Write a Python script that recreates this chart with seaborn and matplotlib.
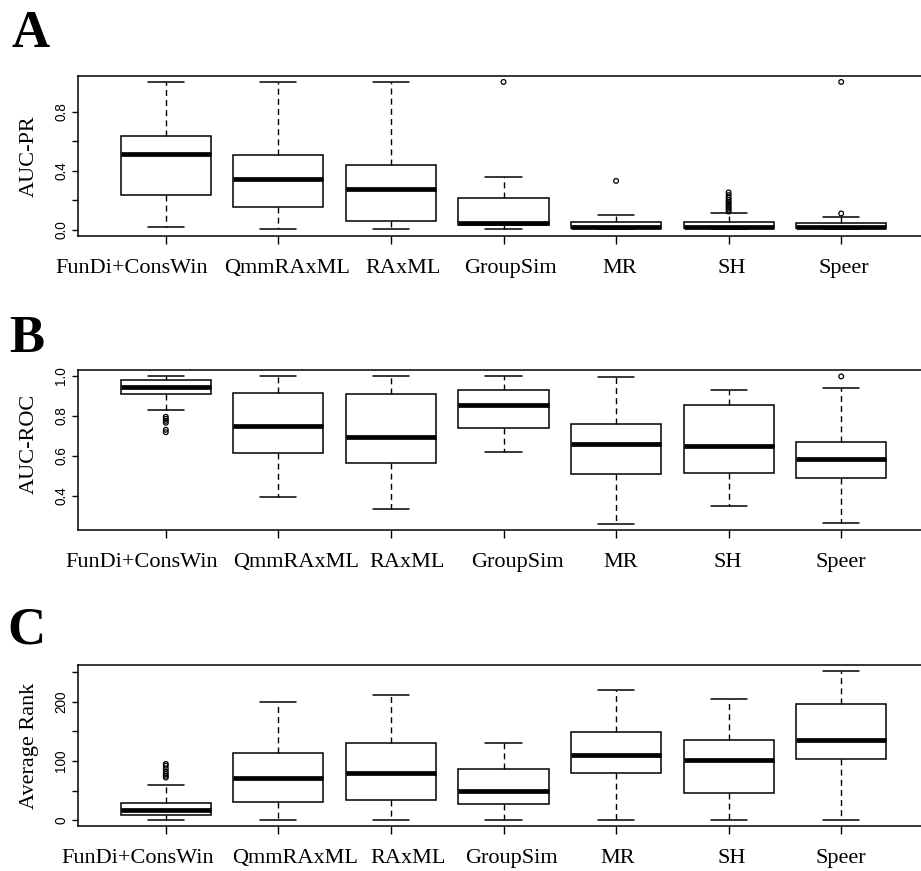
import numpy as np
import pandas as pd
import matplotlib
matplotlib.use("Agg")
import matplotlib.pyplot as plt
import matplotlib.transforms as mtransforms
import seaborn as sns

# ---------------- data ----------------
methods = ["FunDi+ConsWin", "QmmRAxML", "RAxML", "GroupSim", "MR", "SH", "Speer"]

# Panel A: AUC-PR five-number summaries
pr_lower  = [0.022, 0.004, 0.004, 0.007, 0.005, 0.005, 0.005]
pr_q1     = [0.238, 0.155, 0.061, 0.031, 0.012, 0.012, 0.012]
pr_median = [0.514, 0.346, 0.276, 0.051, 0.024, 0.022, 0.022]
pr_q3     = [0.634, 0.508, 0.440, 0.216, 0.054, 0.054, 0.045]
pr_upper  = [1.000, 1.000, 1.000, 0.361, 0.103, 0.112, 0.085]
pr_out_method = ["GroupSim", "MR", "SH", "SH", "SH", "SH", "SH", "SH",
                 "SH", "SH", "SH", "SH", "Speer", "Speer"]
pr_out_value = [1.0, 0.332, 0.125, 0.138, 0.150, 0.163, 0.177, 0.190,
                0.203, 0.218, 0.236, 0.254, 0.112, 1.0]

# Panel B: AUC-ROC five-number summaries
roc_lower  = [0.828, 0.394, 0.333, 0.617, 0.257, 0.347, 0.263]
roc_q1     = [0.908, 0.616, 0.562, 0.739, 0.509, 0.514, 0.490]
roc_median = [0.943, 0.751, 0.696, 0.852, 0.660, 0.650, 0.582]
roc_q3     = [0.980, 0.914, 0.908, 0.929, 0.760, 0.853, 0.670]
roc_upper  = [0.998, 0.998, 0.998, 0.998, 0.995, 0.927, 0.937]
roc_out_method = ["FunDi+ConsWin"] * 6 + ["Speer"]
roc_out_value = [0.795, 0.785, 0.775, 0.765, 0.730, 0.718, 0.997]

# Panel C: Average Rank five-number summaries
rank_lower  = [0.0, 0.0, 0.0, 0.0, 0.0, 0.0, 0.0]
rank_q1     = [8.5, 31.0, 33.9, 27.1, 79.0, 45.8, 102.8]
rank_median = [17.5, 71.2, 79.7, 48.6, 110.0, 101.7, 135.6]
rank_q3     = [29.4, 114.0, 130.0, 86.4, 149.7, 136.2, 196.6]
rank_upper  = [59.9, 200.5, 212.4, 131.0, 220.9, 204.5, 252.5]
rank_out_method = ["FunDi+ConsWin"] * 7
rank_out_value = [72.0, 75.0, 78.0, 82.0, 87.0, 92.0, 95.0]

# ---------------- styling ----------------
sns.set_style("ticks")
plt.rcParams["font.family"] = ["Liberation Serif", "DejaVu Serif"]
plt.rcParams["text.color"] = "black"
plt.rcParams["axes.labelcolor"] = "black"
plt.rcParams["xtick.color"] = "black"
plt.rcParams["ytick.color"] = "black"

W, H = 921, 871
fig = plt.figure(figsize=(W / 100, H / 100), dpi=100)


def long_frame(lower, q1, med, q3, upper):
    rows = []
    for i, m in enumerate(methods):
        for arr in (lower, q1, med, q3, upper):
            rows.append((m, arr[i]))
    return pd.DataFrame(rows, columns=["method", "value"])


def panel(top_px, bottom_px, summary, out_m, out_v, ylim, yticks, yticklabels,
          ylabel, label_y, letter, letter_xy, label_dx):
    ax = fig.add_axes([78 / W, 1 - bottom_px / H, 851 / W, (bottom_px - top_px) / H])
    df = long_frame(*summary)
    sns.boxplot(data=df, x="method", y="value", order=methods, ax=ax,
                whis=(0, 100), width=0.8, color="white", linecolor="black",
                linewidth=1.1, showfliers=False, capwidths=0.32,
                medianprops={"linewidth": 3.4, "color": "black",
                             "solid_capstyle": "butt"},
                whiskerprops={"linestyle": (0, (4.3, 3.0)), "linewidth": 1.0},
                capprops={"linewidth": 1.1},
                boxprops={"linewidth": 1.1})
    odf = pd.DataFrame({"method": out_m, "value": out_v})
    sns.stripplot(data=odf, x="method", y="value", order=methods, ax=ax,
                  jitter=False, size=3.4, marker="o", color="black",
                  facecolors="none", edgecolor="black", linewidth=0.9)
    ax.set_xlim(-0.78, 6.78)
    ax.set_ylim(*ylim)
    ax.set_yticks(yticks)
    ax.set_yticklabels(yticklabels, rotation=90, va="center",
                       family=["Liberation Sans", "DejaVu Sans"], fontsize=9.8)
    ax.set_xticks(range(len(methods)))
    ax.set_xticklabels(methods, fontsize=16)
    ax.tick_params(axis="x", direction="out", length=5.8, width=1.0, pad=11,
                   colors="black")
    ax.tick_params(axis="y", direction="out", length=4.5, width=1.0, pad=2.5,
                   colors="black")
    ax.set_xlabel("")
    ax.set_ylabel(ylabel, fontsize=16)
    ax.yaxis.set_label_coords(-0.046, label_y)
    for s in ("left", "top", "bottom", "right"):
        ax.spines[s].set_linewidth(1.1)
        ax.spines[s].set_color("black")
    # hand-placed label offsets as in the original figure
    for lab, dx in zip(ax.get_xticklabels(), label_dx):
        off = mtransforms.ScaledTranslation(dx / 100, 0, fig.dpi_scale_trans)
        lab.set_transform(lab.get_transform() + off)
    fig.text(letter_xy[0] / W, 1 - letter_xy[1] / H, letter, fontsize=38,
             fontweight="bold", ha="left", va="baseline", color="black")
    return ax


panel(76, 236, (pr_lower, pr_q1, pr_median, pr_q3, pr_upper),
      pr_out_method, pr_out_value, (-0.04, 1.04),
      [0.0, 0.2, 0.4, 0.6, 0.8], ["0.0", "", "0.4", "", "0.8"],
      "AUC-PR", 0.5, "A", (11, 47), [-34, 9, 12, 7, 4, 3, 3])

panel(370, 530, (roc_lower, roc_q1, roc_median, roc_q3, roc_upper),
      roc_out_method, roc_out_value, (0.229, 1.029),
      [0.4, 0.6, 0.8, 1.0], ["0.4", "0.6", "0.8", "1.0"],
      "AUC-ROC", 0.54, "B", (9, 352), [-24, 18, 16, 14, 5, -1, 0])

panel(665, 826, (rank_lower, rank_q1, rank_median, rank_q3, rank_upper),
      rank_out_method, rank_out_value, (-10.1, 262.6),
      [0, 50, 100, 150, 200, 250], ["0", "", "100", "", "200", ""],
      "Average Rank", 0.5, "C", (7, 644), [-28, 17, 17, 8, 2, 3, 0])

fig.savefig("out.png", dpi=100)
